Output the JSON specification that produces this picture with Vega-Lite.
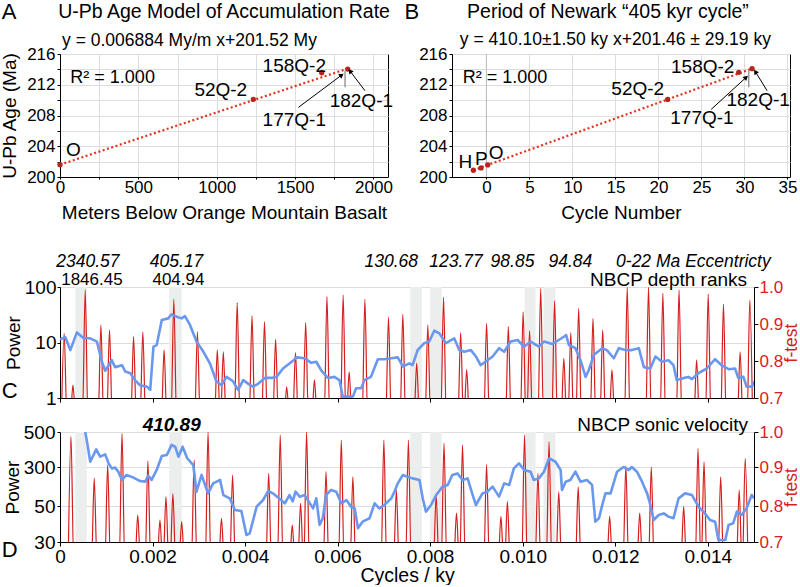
{
"$schema": "https://vega.github.io/schema/vega-lite/v6.json",
"background": "white",
"padding": {"left": 0, "top": 0, "right": 0, "bottom": 0},
"config": {
  "font": "Liberation Sans",
  "view": {"stroke": null},
  "axis": {"labelFont": "Liberation Sans", "titleFont": "Liberation Sans", "labelColor": "#000", "titleColor": "#000", "domainColor": "#000", "tickColor": "#000", "titleFontWeight": "normal", "gridColor": "#dddddd", "labelFontSize": 17, "titleFontSize": 19, "labelOverlap": false, "labelFlush": false, "labelBound": false},
  "text": {"font": "Liberation Sans", "color": "#000"}
},
"datasets": {
  "lineA": [{"m":0,"age":201.6},{"m":1836,"age":214.1}],
  "errA": [{"m":1819,"age":211.66,"age2":213.82}],
  "ptsA": [{"m":0,"age":201.6},{"m":1234,"age":210.09},{"m":1670,"age":213.56},{"m":1836,"age":214.04}],
  "arrA": [{"m":1521,"age":209.05,"m2":1797,"age2":213.26},{"m":1946,"age":211.22,"m2":1851,"age2":213.78}],
  "headA": [{"m":1797,"age":213.26,"angle":53},{"m":1851,"age":213.78,"angle":323}],
  "txtA": [{"m":85,"age":203.5,"label":"O"},{"m":1026,"age":211.37,"label":"52Q-2"},{"m":1495,"age":214.5,"label":"158Q-2"},{"m":1495,"age":207.46,"label":"177Q-1"},{"m":1923,"age":209.94,"label":"182Q-1"}],
  "r2A": [{"m":66,"age":212.94,"label":"R² = 1.000"}],
  "ttlA": [{"m":1047,"age":221.41,"label":"U-Pb Age Model of Accumulation Rate"}],
  "eqA": [{"m":13,"age":217.75,"label":"y = 0.006884 My/m x+201.52 My"}],
  "letA": [{"m":-325,"age":221.5,"label":"A"}],
  "lineB": [{"n":-1.51,"age":200.88},{"n":30.89,"age":214.1}],
  "zeroB": [{"n":0}],
  "errB": [{"n":30.5,"age":211.66,"age2":213.82}],
  "ptsB": [{"n":-1.51,"age":200.88},{"n":-0.62,"age":201.18},{"n":0.15,"age":201.57},{"n":21.08,"age":210.09},{"n":29.34,"age":213.61},{"n":30.89,"age":214.09}],
  "arrB": [{"n":26.13,"age":208.79,"n2":30.2,"age2":212.96},{"n":32.64,"age":211.22,"n2":31.28,"age2":213.69}],
  "headB": [{"n":30.2,"age":212.96,"angle":48},{"n":31.28,"age":213.69,"angle":328}],
  "txtB": [{"n":-2.44,"age":201.96,"label":"H"},{"n":-0.58,"age":202.4,"label":"P"},{"n":1.13,"age":203.09,"label":"O"},{"n":17.6,"age":211.41,"label":"52Q-2"},{"n":25.15,"age":214.35,"label":"158Q-2"},{"n":25.06,"age":207.72,"label":"177Q-1"},{"n":31.6,"age":210.0,"label":"182Q-1"}],
  "r2B": [{"n":-2.76,"age":212.94,"label":"R² = 1.000"}],
  "ttlB": [{"n":14.13,"age":221.41,"label":"Period of Newark “405 kyr cycle”"}],
  "subB": [{"n":15.0,"age":217.83,"label":"y = 410.10±1.50 ky x+201.46 ± 29.19 ky"}],
  "letB": [{"n":-8.66,"age":221.5,"label":"B"}],
  "bands": [{"cyc":0.00033,"cyc2":0.00058},{"cyc":0.00236,"cyc2":0.00263},{"cyc":0.00757,"cyc2":0.00782},{"cyc":0.008,"cyc2":0.00825},{"cyc":0.01004,"cyc2":0.01028},{"cyc":0.01045,"cyc2":0.01071}],
  "italicC": [{"cyc":0.000603,"power":282,"label":"2340.57"},{"cyc":0.00252,"power":282,"label":"405.17"},{"cyc":0.00716,"power":282,"label":"130.68"},{"cyc":0.00856,"power":282,"label":"123.77"},{"cyc":0.00978,"power":282,"label":"98.85"},{"cyc":0.01103,"power":282,"label":"94.84"},{"cyc":0.01369,"power":282,"label":"0-22 Ma Eccentricty"}],
  "normalC": [{"cyc":0.00069,"power":136,"label":"1846.45"},{"cyc":0.00256,"power":136,"label":"404.94"}],
  "nbcpC": [{"cyc":0.01485,"power":135,"label":"NBCP depth ranks"}],
  "letC": [{"cyc":-0.00109,"power":1.365,"label":"C"}],
  "boldD": [{"cyc":0.002414,"power":540,"label":"410.89"}],
  "nbcpD": [{"cyc":0.01487,"power":540,"label":"NBCP sonic velocity"}],
  "letD": [{"cyc":-0.00109,"power":25.3,"label":"D"}],
  "blueC": [{"cyc":0,"power":11.4},{"cyc":0.000115,"power":12.4},{"cyc":0.000223,"power":7.3},{"cyc":0.000366,"power":15.2},{"cyc":0.00051,"power":11.9},{"cyc":0.000654,"power":11.9},{"cyc":0.000797,"power":10.4},{"cyc":0.000905,"power":4.5},{"cyc":0.000977,"power":3.1},{"cyc":0.00112,"power":4.8},{"cyc":0.00119,"power":3.6},{"cyc":0.00134,"power":3.9},{"cyc":0.00141,"power":3.0},{"cyc":0.00152,"power":2.8},{"cyc":0.00162,"power":2.1},{"cyc":0.00173,"power":1.7},{"cyc":0.00188,"power":1.6},{"cyc":0.00195,"power":1.4},{"cyc":0.00202,"power":8.4},{"cyc":0.00209,"power":9.0},{"cyc":0.0022,"power":25.4},{"cyc":0.00234,"power":27.2},{"cyc":0.00241,"power":32.2},{"cyc":0.00252,"power":29.2},{"cyc":0.00263,"power":27.2},{"cyc":0.0027,"power":30},{"cyc":0.00281,"power":20.7},{"cyc":0.00295,"power":10.4},{"cyc":0.0031,"power":6.8},{"cyc":0.00324,"power":4.2},{"cyc":0.00338,"power":2.0},{"cyc":0.00349,"power":1.7},{"cyc":0.0036,"power":2.4},{"cyc":0.00374,"power":2.0},{"cyc":0.00385,"power":1.4},{"cyc":0.00396,"power":2.1},{"cyc":0.00407,"power":1.8},{"cyc":0.00417,"power":1.6},{"cyc":0.00428,"power":1.8},{"cyc":0.00443,"power":2.3},{"cyc":0.00457,"power":2.3},{"cyc":0.00468,"power":2.4},{"cyc":0.00482,"power":3.4},{"cyc":0.00496,"power":4.2},{"cyc":0.00505,"power":4.8},{"cyc":0.00511,"power":5.4},{"cyc":0.00529,"power":5.2},{"cyc":0.00543,"power":4.3},{"cyc":0.00554,"power":4.5},{"cyc":0.00565,"power":3.1},{"cyc":0.00579,"power":2.3},{"cyc":0.00593,"power":2.4},{"cyc":0.00604,"power":2.1},{"cyc":0.00611,"power":1.06},{"cyc":0.00633,"power":1.06},{"cyc":0.0064,"power":1.5},{"cyc":0.00651,"power":1.5},{"cyc":0.00658,"power":2.1},{"cyc":0.00672,"power":2.4},{"cyc":0.00687,"power":5.0},{"cyc":0.00701,"power":5.0},{"cyc":0.00716,"power":5.2},{"cyc":0.0073,"power":5.4},{"cyc":0.00741,"power":3.7},{"cyc":0.00755,"power":4.2},{"cyc":0.00762,"power":3.9},{"cyc":0.00773,"power":7.3},{"cyc":0.00787,"power":9.7},{"cyc":0.00798,"power":10.4},{"cyc":0.00809,"power":16.3},{"cyc":0.0082,"power":14.6},{"cyc":0.00834,"power":9.7},{"cyc":0.00852,"power":11.9},{"cyc":0.00863,"power":7.3},{"cyc":0.00874,"power":6.8},{"cyc":0.00888,"power":7.3},{"cyc":0.00899,"power":5.6},{"cyc":0.00909,"power":3.9},{"cyc":0.00924,"power":4.8},{"cyc":0.00935,"power":5.6},{"cyc":0.00949,"power":7.9},{"cyc":0.0096,"power":6.8},{"cyc":0.00974,"power":10.4},{"cyc":0.00989,"power":11.1},{"cyc":0.01003,"power":8.4},{"cyc":0.01017,"power":10.4},{"cyc":0.01035,"power":8.4},{"cyc":0.01046,"power":10.4},{"cyc":0.01064,"power":9.4},{"cyc":0.01078,"power":11.1},{"cyc":0.01089,"power":12.7},{"cyc":0.01094,"power":13.6},{"cyc":0.011,"power":9.0},{"cyc":0.01114,"power":7.9},{"cyc":0.01125,"power":4.8},{"cyc":0.01136,"power":2.4},{"cyc":0.01143,"power":3.2},{"cyc":0.01154,"power":6.0},{"cyc":0.01172,"power":7.9},{"cyc":0.01182,"power":7.3},{"cyc":0.01197,"power":5.2},{"cyc":0.01208,"power":7.9},{"cyc":0.01222,"power":7.3},{"cyc":0.01236,"power":7.3},{"cyc":0.01251,"power":7.9},{"cyc":0.01262,"power":3.6},{"cyc":0.01276,"power":3.4},{"cyc":0.01287,"power":5.6},{"cyc":0.01301,"power":4.5},{"cyc":0.01315,"power":4.8},{"cyc":0.01326,"power":3.9},{"cyc":0.01333,"power":2.1},{"cyc":0.01348,"power":2.3},{"cyc":0.01358,"power":2.4},{"cyc":0.01366,"power":2.2},{"cyc":0.0138,"power":2.8},{"cyc":0.01398,"power":3.4},{"cyc":0.01416,"power":5.0},{"cyc":0.0143,"power":3.9},{"cyc":0.01445,"power":3.3},{"cyc":0.01459,"power":3.4},{"cyc":0.01466,"power":2.3},{"cyc":0.01477,"power":2.4},{"cyc":0.01484,"power":1.6},{"cyc":0.01496,"power":1.6},{"cyc":0.015,"power":2.0}],
  "blueD": [{"cyc":0.000546,"power":500},{"cyc":0.000596,"power":426},{"cyc":0.000654,"power":330},{"cyc":0.000783,"power":401},{"cyc":0.000869,"power":359},{"cyc":0.000977,"power":372},{"cyc":0.00105,"power":321},{"cyc":0.00112,"power":291},{"cyc":0.00119,"power":296},{"cyc":0.00126,"power":270},{"cyc":0.00134,"power":217},{"cyc":0.00144,"power":249},{"cyc":0.00159,"power":232},{"cyc":0.00173,"power":210},{"cyc":0.00184,"power":206},{"cyc":0.00191,"power":244},{"cyc":0.00198,"power":217},{"cyc":0.00209,"power":281},{"cyc":0.0022,"power":363},{"cyc":0.00231,"power":369},{"cyc":0.00241,"power":426},{"cyc":0.00249,"power":416},{"cyc":0.00256,"power":359},{"cyc":0.00265,"power":416},{"cyc":0.00275,"power":350},{"cyc":0.00288,"power":311},{"cyc":0.00295,"power":142},{"cyc":0.00306,"power":249},{"cyc":0.0032,"power":131},{"cyc":0.00331,"power":195},{"cyc":0.00346,"power":217},{"cyc":0.00353,"power":120},{"cyc":0.00367,"power":99},{"cyc":0.00378,"power":47.8},{"cyc":0.00392,"power":47.2},{"cyc":0.00403,"power":33.9},{"cyc":0.0041,"power":34.8},{"cyc":0.00425,"power":49.6},{"cyc":0.00439,"power":88.4},{"cyc":0.0045,"power":146},{"cyc":0.0046,"power":131},{"cyc":0.00475,"power":95},{"cyc":0.00486,"power":67},{"cyc":0.00496,"power":120},{"cyc":0.00503,"power":80},{"cyc":0.00509,"power":142},{"cyc":0.00518,"power":110},{"cyc":0.00529,"power":120},{"cyc":0.0054,"power":67},{"cyc":0.00547,"power":48.7},{"cyc":0.00554,"power":99},{"cyc":0.00561,"power":39.5},{"cyc":0.00568,"power":43.2},{"cyc":0.00575,"power":120},{"cyc":0.00586,"power":153},{"cyc":0.00597,"power":142},{"cyc":0.00608,"power":67},{"cyc":0.00619,"power":88},{"cyc":0.00629,"power":49.6},{"cyc":0.00637,"power":48.7},{"cyc":0.00644,"power":37.6},{"cyc":0.00654,"power":41.3},{"cyc":0.00669,"power":43.2},{"cyc":0.0068,"power":67},{"cyc":0.0069,"power":48.7},{"cyc":0.00701,"power":56.4},{"cyc":0.00716,"power":99},{"cyc":0.00723,"power":142},{"cyc":0.0073,"power":195},{"cyc":0.00741,"power":249},{"cyc":0.00751,"power":238},{"cyc":0.00762,"power":227},{"cyc":0.00777,"power":217},{"cyc":0.00784,"power":99},{"cyc":0.00791,"power":46.9},{"cyc":0.00802,"power":56.4},{"cyc":0.00813,"power":120},{"cyc":0.00827,"power":174},{"cyc":0.00838,"power":185},{"cyc":0.00848,"power":249},{"cyc":0.00859,"power":259},{"cyc":0.0087,"power":217},{"cyc":0.00881,"power":227},{"cyc":0.00892,"power":120},{"cyc":0.00899,"power":56.4},{"cyc":0.00913,"power":131},{"cyc":0.00924,"power":142},{"cyc":0.00935,"power":174},{"cyc":0.00949,"power":110},{"cyc":0.0096,"power":195},{"cyc":0.00971,"power":185},{"cyc":0.00981,"power":291},{"cyc":0.00992,"power":321},{"cyc":0.01003,"power":281},{"cyc":0.01017,"power":270},{"cyc":0.01024,"power":217},{"cyc":0.01035,"power":227},{"cyc":0.01046,"power":270},{"cyc":0.01057,"power":350},{"cyc":0.01071,"power":330},{"cyc":0.01082,"power":281},{"cyc":0.01085,"power":153},{"cyc":0.01093,"power":206},{"cyc":0.01103,"power":217},{"cyc":0.01114,"power":270},{"cyc":0.01125,"power":206},{"cyc":0.01139,"power":217},{"cyc":0.0115,"power":185},{"cyc":0.01157,"power":41.3},{"cyc":0.01165,"power":43.2},{"cyc":0.01172,"power":56.4},{"cyc":0.01179,"power":131},{"cyc":0.0119,"power":131},{"cyc":0.01204,"power":270},{"cyc":0.01218,"power":300},{"cyc":0.01229,"power":281},{"cyc":0.01236,"power":300},{"cyc":0.01247,"power":270},{"cyc":0.01258,"power":206},{"cyc":0.01269,"power":131},{"cyc":0.01276,"power":56.4},{"cyc":0.01283,"power":42.2},{"cyc":0.01294,"power":45},{"cyc":0.01305,"power":45.9},{"cyc":0.01315,"power":44.1},{"cyc":0.01326,"power":43.2},{"cyc":0.01337,"power":99},{"cyc":0.01351,"power":131},{"cyc":0.01366,"power":120},{"cyc":0.0138,"power":49.6},{"cyc":0.01394,"power":45.9},{"cyc":0.01405,"power":42.2},{"cyc":0.01416,"power":41.3},{"cyc":0.01423,"power":31.1},{"cyc":0.01438,"power":31.1},{"cyc":0.01445,"power":39.5},{"cyc":0.01455,"power":40.4},{"cyc":0.01463,"power":46.9},{"cyc":0.01473,"power":45},{"cyc":0.01484,"power":48.7},{"cyc":0.01495,"power":120},{"cyc":0.015,"power":99}],
  "redC": [{"cyc":0.00003,"f":0.64},{"cyc":0.00009,"f":0.875},{"cyc":0.00015,"f":0.64},{"cyc":0.00022,"f":0.64},{"cyc":0.00028,"f":0.735},{"cyc":0.00034,"f":0.64},{"cyc":0.000485,"f":0.64},{"cyc":0.000545,"f":0.992},{"cyc":0.000605,"f":0.64},{"cyc":0.000824,"f":0.64},{"cyc":0.000884,"f":0.897},{"cyc":0.000944,"f":0.64},{"cyc":0.00101,"f":0.64},{"cyc":0.00107,"f":0.884},{"cyc":0.00113,"f":0.64},{"cyc":0.00153,"f":0.64},{"cyc":0.00159,"f":0.866},{"cyc":0.00165,"f":0.64},{"cyc":0.00173,"f":0.64},{"cyc":0.00179,"f":0.879},{"cyc":0.00185,"f":0.64},{"cyc":0.00219,"f":0.64},{"cyc":0.00225,"f":0.83},{"cyc":0.00231,"f":0.64},{"cyc":0.0024,"f":0.64},{"cyc":0.00246,"f":0.967},{"cyc":0.00252,"f":0.64},{"cyc":0.00291,"f":0.64},{"cyc":0.00297,"f":0.879},{"cyc":0.00303,"f":0.64},{"cyc":0.00334,"f":0.64},{"cyc":0.0034,"f":0.83},{"cyc":0.00346,"f":0.64},{"cyc":0.00347,"f":0.64},{"cyc":0.00353,"f":0.825},{"cyc":0.00359,"f":0.64},{"cyc":0.00377,"f":0.64},{"cyc":0.00383,"f":0.958},{"cyc":0.00389,"f":0.64},{"cyc":0.00409,"f":0.64},{"cyc":0.00415,"f":0.922},{"cyc":0.00421,"f":0.64},{"cyc":0.00436,"f":0.64},{"cyc":0.00442,"f":0.906},{"cyc":0.00448,"f":0.64},{"cyc":0.0046,"f":0.64},{"cyc":0.00466,"f":0.859},{"cyc":0.00472,"f":0.64},{"cyc":0.00484,"f":0.64},{"cyc":0.0049,"f":0.73},{"cyc":0.00496,"f":0.64},{"cyc":0.00503,"f":0.64},{"cyc":0.00509,"f":0.823},{"cyc":0.00515,"f":0.64},{"cyc":0.00525,"f":0.64},{"cyc":0.00531,"f":0.904},{"cyc":0.00537,"f":0.64},{"cyc":0.00544,"f":0.64},{"cyc":0.0055,"f":0.749},{"cyc":0.00556,"f":0.64},{"cyc":0.00571,"f":0.64},{"cyc":0.00577,"f":0.974},{"cyc":0.00583,"f":0.64},{"cyc":0.00606,"f":0.64},{"cyc":0.00612,"f":0.978},{"cyc":0.00618,"f":0.64},{"cyc":0.00619,"f":0.64},{"cyc":0.00625,"f":0.771},{"cyc":0.00631,"f":0.64},{"cyc":0.00653,"f":0.64},{"cyc":0.00659,"f":0.967},{"cyc":0.00665,"f":0.64},{"cyc":0.00704,"f":0.64},{"cyc":0.0071,"f":0.918},{"cyc":0.00716,"f":0.64},{"cyc":0.00735,"f":0.64},{"cyc":0.00741,"f":0.926},{"cyc":0.00747,"f":0.64},{"cyc":0.00765,"f":0.64},{"cyc":0.00771,"f":0.794},{"cyc":0.00777,"f":0.64},{"cyc":0.00789,"f":0.64},{"cyc":0.00795,"f":0.897},{"cyc":0.00801,"f":0.64},{"cyc":0.00823,"f":0.64},{"cyc":0.00829,"f":0.972},{"cyc":0.00835,"f":0.64},{"cyc":0.0086,"f":0.64},{"cyc":0.00866,"f":0.877},{"cyc":0.00872,"f":0.64},{"cyc":0.00873,"f":0.64},{"cyc":0.00879,"f":0.777},{"cyc":0.00885,"f":0.64},{"cyc":0.00916,"f":0.64},{"cyc":0.00922,"f":0.902},{"cyc":0.00928,"f":0.64},{"cyc":0.00963,"f":0.64},{"cyc":0.00969,"f":0.893},{"cyc":0.00975,"f":0.64},{"cyc":0.00995,"f":0.64},{"cyc":0.01001,"f":0.933},{"cyc":0.01007,"f":0.64},{"cyc":0.01009,"f":0.64},{"cyc":0.01015,"f":0.882},{"cyc":0.01021,"f":0.64},{"cyc":0.01033,"f":0.64},{"cyc":0.01039,"f":0.996},{"cyc":0.01045,"f":0.64},{"cyc":0.01063,"f":0.64},{"cyc":0.01069,"f":0.963},{"cyc":0.01075,"f":0.64},{"cyc":0.01083,"f":0.64},{"cyc":0.01089,"f":0.807},{"cyc":0.01095,"f":0.64},{"cyc":0.01098,"f":0.64},{"cyc":0.01104,"f":0.877},{"cyc":0.0111,"f":0.64},{"cyc":0.01115,"f":0.64},{"cyc":0.01121,"f":0.942},{"cyc":0.01127,"f":0.64},{"cyc":0.01146,"f":0.64},{"cyc":0.01152,"f":0.915},{"cyc":0.01158,"f":0.64},{"cyc":0.01167,"f":0.64},{"cyc":0.01173,"f":0.884},{"cyc":0.01179,"f":0.64},{"cyc":0.01187,"f":0.64},{"cyc":0.01193,"f":0.776},{"cyc":0.01199,"f":0.64},{"cyc":0.0122,"f":0.64},{"cyc":0.01226,"f":0.999},{"cyc":0.01232,"f":0.64},{"cyc":0.01266,"f":0.64},{"cyc":0.01272,"f":0.999},{"cyc":0.01278,"f":0.64},{"cyc":0.01297,"f":0.64},{"cyc":0.01303,"f":0.983},{"cyc":0.01309,"f":0.64},{"cyc":0.01332,"f":0.64},{"cyc":0.01338,"f":0.992},{"cyc":0.01344,"f":0.64},{"cyc":0.0137,"f":0.64},{"cyc":0.01376,"f":0.803},{"cyc":0.01382,"f":0.64},{"cyc":0.01395,"f":0.64},{"cyc":0.01401,"f":0.981},{"cyc":0.01407,"f":0.64},{"cyc":0.01428,"f":0.64},{"cyc":0.01434,"f":0.954},{"cyc":0.0144,"f":0.64},{"cyc":0.01464,"f":0.64},{"cyc":0.0147,"f":0.825},{"cyc":0.01476,"f":0.64},{"cyc":0.01485,"f":0.64},{"cyc":0.01491,"f":0.965},{"cyc":0.01497,"f":0.64}],
  "redD": [{"cyc":0.000177,"f":0.64},{"cyc":0.000237,"f":0.987},{"cyc":0.000297,"f":0.64},{"cyc":0.00068,"f":0.64},{"cyc":0.00074,"f":0.871},{"cyc":0.0008,"f":0.64},{"cyc":0.00097,"f":0.64},{"cyc":0.00103,"f":0.906},{"cyc":0.00109,"f":0.64},{"cyc":0.00128,"f":0.64},{"cyc":0.00134,"f":0.996},{"cyc":0.0014,"f":0.64},{"cyc":0.00162,"f":0.64},{"cyc":0.00168,"f":0.775},{"cyc":0.00174,"f":0.64},{"cyc":0.00184,"f":0.64},{"cyc":0.0019,"f":0.917},{"cyc":0.00196,"f":0.64},{"cyc":0.0021,"f":0.64},{"cyc":0.00216,"f":0.761},{"cyc":0.00222,"f":0.64},{"cyc":0.00223,"f":0.64},{"cyc":0.00229,"f":0.824},{"cyc":0.00235,"f":0.64},{"cyc":0.00238,"f":0.64},{"cyc":0.00244,"f":0.832},{"cyc":0.0025,"f":0.64},{"cyc":0.00257,"f":0.64},{"cyc":0.00263,"f":0.757},{"cyc":0.00269,"f":0.64},{"cyc":0.00284,"f":0.64},{"cyc":0.0029,"f":0.92},{"cyc":0.00296,"f":0.64},{"cyc":0.00314,"f":0.64},{"cyc":0.0032,"f":1.0},{"cyc":0.00326,"f":0.64},{"cyc":0.00343,"f":0.64},{"cyc":0.00349,"f":0.766},{"cyc":0.00355,"f":0.64},{"cyc":0.00367,"f":0.64},{"cyc":0.00373,"f":0.879},{"cyc":0.00379,"f":0.64},{"cyc":0.00445,"f":0.64},{"cyc":0.00451,"f":0.884},{"cyc":0.00457,"f":0.64},{"cyc":0.0047,"f":0.64},{"cyc":0.00476,"f":0.991},{"cyc":0.00482,"f":0.64},{"cyc":0.00496,"f":0.64},{"cyc":0.00502,"f":0.747},{"cyc":0.00508,"f":0.64},{"cyc":0.00514,"f":0.64},{"cyc":0.0052,"f":0.807},{"cyc":0.00526,"f":0.64},{"cyc":0.00527,"f":0.64},{"cyc":0.00533,"f":1.0},{"cyc":0.00539,"f":0.64},{"cyc":0.00569,"f":0.64},{"cyc":0.00575,"f":0.888},{"cyc":0.00581,"f":0.64},{"cyc":0.00602,"f":0.64},{"cyc":0.00608,"f":0.977},{"cyc":0.00614,"f":0.64},{"cyc":0.00627,"f":0.64},{"cyc":0.00633,"f":0.875},{"cyc":0.00639,"f":0.64},{"cyc":0.00694,"f":0.64},{"cyc":0.007,"f":0.977},{"cyc":0.00706,"f":0.64},{"cyc":0.00721,"f":0.64},{"cyc":0.00727,"f":0.841},{"cyc":0.00733,"f":0.64},{"cyc":0.00747,"f":0.64},{"cyc":0.00753,"f":0.977},{"cyc":0.00759,"f":0.64},{"cyc":0.00807,"f":0.64},{"cyc":0.00813,"f":0.828},{"cyc":0.00819,"f":0.64},{"cyc":0.00824,"f":0.64},{"cyc":0.0083,"f":0.968},{"cyc":0.00836,"f":0.64},{"cyc":0.00851,"f":0.64},{"cyc":0.00857,"f":0.78},{"cyc":0.00863,"f":0.64},{"cyc":0.00864,"f":0.64},{"cyc":0.0087,"f":0.963},{"cyc":0.00876,"f":0.64},{"cyc":0.00916,"f":0.64},{"cyc":0.00922,"f":0.907},{"cyc":0.00928,"f":0.64},{"cyc":0.00947,"f":0.64},{"cyc":0.00953,"f":0.771},{"cyc":0.00959,"f":0.64},{"cyc":0.00961,"f":0.64},{"cyc":0.00967,"f":0.811},{"cyc":0.00973,"f":0.64},{"cyc":0.00998,"f":0.64},{"cyc":0.01004,"f":0.991},{"cyc":0.0101,"f":0.64},{"cyc":0.01027,"f":0.64},{"cyc":0.01033,"f":0.884},{"cyc":0.01039,"f":0.64},{"cyc":0.01051,"f":0.64},{"cyc":0.01057,"f":0.972},{"cyc":0.01063,"f":0.64},{"cyc":0.01072,"f":0.64},{"cyc":0.01078,"f":0.836},{"cyc":0.01084,"f":0.64},{"cyc":0.01114,"f":0.64},{"cyc":0.0112,"f":0.849},{"cyc":0.01126,"f":0.64},{"cyc":0.01182,"f":0.64},{"cyc":0.01188,"f":0.771},{"cyc":0.01194,"f":0.64},{"cyc":0.01217,"f":0.64},{"cyc":0.01223,"f":0.903},{"cyc":0.01229,"f":0.64},{"cyc":0.01247,"f":0.64},{"cyc":0.01253,"f":0.78},{"cyc":0.01259,"f":0.64},{"cyc":0.01272,"f":0.64},{"cyc":0.01278,"f":0.9},{"cyc":0.01284,"f":0.64},{"cyc":0.01342,"f":0.64},{"cyc":0.01348,"f":0.798},{"cyc":0.01354,"f":0.64},{"cyc":0.01373,"f":0.64},{"cyc":0.01379,"f":0.953},{"cyc":0.01385,"f":0.64},{"cyc":0.01386,"f":0.64},{"cyc":0.01392,"f":0.915},{"cyc":0.01398,"f":0.64},{"cyc":0.01422,"f":0.64},{"cyc":0.01428,"f":0.875},{"cyc":0.01434,"f":0.64},{"cyc":0.01462,"f":0.64},{"cyc":0.01468,"f":0.841},{"cyc":0.01474,"f":0.64},{"cyc":0.01475,"f":0.64},{"cyc":0.01481,"f":0.925},{"cyc":0.01487,"f":0.64}]
},
"spacing": 30,
"vconcat": [
  {
    "hconcat": [
      {
        "width": 328, "height": 123,
        "view": {"stroke": "#000"},
        "encoding": {
          "x": {"field": "m", "type": "quantitative", "scale": {"domain": [0, 2093], "nice": false, "zero": false},
                "axis": {"values": [0,250,500,750,1000,1250,1500,1750,2000], "labelExpr": "datum.value % 500 === 0 ? datum.label : ''", "format": "d", "title": "Meters Below Orange Mountain Basalt", "grid": true, "tickSize": 2, "labelPadding": 0, "titlePadding": 8}},
          "y": {"field": "age", "type": "quantitative", "scale": {"domain": [200, 216], "nice": false, "zero": false},
                "axis": {"values": [200,202,204,206,208,210,212,214,216], "labelExpr": "datum.value % 4 === 0 ? datum.label : ''", "title": "U-Pb Age (Ma)", "grid": true, "tickSize": 3, "labelPadding": 2, "titlePadding": 7}}
        },
        "layer": [
          {"data": {"name": "lineA"}, "mark": {"type": "line", "color": "#e2321f", "strokeDash": [2, 2.5], "strokeWidth": 2.2}},
          {"data": {"name": "errA"}, "mark": {"type": "rule", "color": "#999999", "strokeWidth": 1.5}, "encoding": {"y2": {"field": "age2"}}},
          {"data": {"name": "ptsA"}, "mark": {"type": "point", "filled": true, "color": "#b3261e", "size": 28, "opacity": 1}},
          {"data": {"name": "arrA"}, "mark": {"type": "rule", "color": "#000", "strokeWidth": 1}, "encoding": {"x2": {"field": "m2"}, "y2": {"field": "age2"}}},
          {"data": {"name": "headA"}, "mark": {"type": "point", "shape": "triangle-up", "filled": true, "color": "#000", "size": 30, "opacity": 1}, "encoding": {"angle": {"field": "angle", "type": "quantitative", "scale": null}}},
          {"data": {"name": "txtA"}, "mark": {"type": "text", "fontSize": 19, "baseline": "middle"}, "encoding": {"text": {"field": "label"}}},
          {"data": {"name": "r2A"}, "mark": {"type": "text", "fontSize": 18, "align": "left", "baseline": "middle"}, "encoding": {"text": {"field": "label"}}},
          {"data": {"name": "ttlA"}, "mark": {"type": "text", "fontSize": 19.5, "baseline": "middle"}, "encoding": {"text": {"field": "label"}}},
          {"data": {"name": "eqA"}, "mark": {"type": "text", "fontSize": 17.5, "align": "left", "baseline": "middle"}, "encoding": {"text": {"field": "label"}}},
          {"data": {"name": "letA"}, "mark": {"type": "text", "fontSize": 22, "baseline": "middle"}, "encoding": {"text": {"field": "label"}}}
        ]
      },
      {
        "width": 338, "height": 123,
        "view": {"stroke": "#000"},
        "encoding": {
          "x": {"field": "n", "type": "quantitative", "scale": {"domain": [-4, 35.3], "nice": false, "zero": false},
                "axis": {"values": [0,5,10,15,20,25,30,35], "title": "Cycle Number", "grid": true, "tickSize": 2, "labelPadding": 0, "titlePadding": 8}},
          "y": {"field": "age", "type": "quantitative", "scale": {"domain": [200, 216], "nice": false, "zero": false},
                "axis": {"values": [200,202,204,206,208,210,212,214,216], "labelExpr": "datum.value % 4 === 0 ? datum.label : ''", "title": null, "grid": true, "tickSize": 3, "labelPadding": 2}}
        },
        "layer": [
          {"data": {"name": "zeroB"}, "mark": {"type": "rule", "color": "#bbbbbb", "strokeWidth": 1}, "encoding": {"y": null}},
          {"data": {"name": "lineB"}, "mark": {"type": "line", "color": "#e2321f", "strokeDash": [2, 2.5], "strokeWidth": 2.2}},
          {"data": {"name": "errB"}, "mark": {"type": "rule", "color": "#999999", "strokeWidth": 1.5}, "encoding": {"y2": {"field": "age2"}}},
          {"data": {"name": "ptsB"}, "mark": {"type": "point", "filled": true, "color": "#b3261e", "size": 28, "opacity": 1}},
          {"data": {"name": "arrB"}, "mark": {"type": "rule", "color": "#000", "strokeWidth": 1}, "encoding": {"x2": {"field": "n2"}, "y2": {"field": "age2"}}},
          {"data": {"name": "headB"}, "mark": {"type": "point", "shape": "triangle-up", "filled": true, "color": "#000", "size": 30, "opacity": 1}, "encoding": {"angle": {"field": "angle", "type": "quantitative", "scale": null}}},
          {"data": {"name": "txtB"}, "mark": {"type": "text", "fontSize": 19, "baseline": "middle"}, "encoding": {"text": {"field": "label"}}},
          {"data": {"name": "r2B"}, "mark": {"type": "text", "fontSize": 18, "align": "left", "baseline": "middle"}, "encoding": {"text": {"field": "label"}}},
          {"data": {"name": "ttlB"}, "mark": {"type": "text", "fontSize": 19.5, "baseline": "middle"}, "encoding": {"text": {"field": "label"}}},
          {"data": {"name": "subB"}, "mark": {"type": "text", "fontSize": 17.5, "baseline": "middle"}, "encoding": {"text": {"field": "label"}}},
          {"data": {"name": "letB"}, "mark": {"type": "text", "fontSize": 22, "baseline": "middle"}, "encoding": {"text": {"field": "label"}}}
        ]
      }
    ],
    "spacing": 64,
    "bounds": "flush"
  },
  {
    "vconcat": [
      {
        "width": 694, "height": 111,
        "encoding": {
          "x": {"field": "cyc", "type": "quantitative", "scale": {"domain": [0, 0.015], "nice": false, "zero": false},
                "axis": {"values": [0,0.002,0.004,0.006,0.008,0.01,0.012,0.014], "labels": false, "title": null, "grid": false, "tickSize": 4}}
        },
        "layer": [
          {"data": {"name": "bands"}, "mark": {"type": "rect", "color": "#eceeee"}, "encoding": {"x2": {"field": "cyc2"}}},
          {"data": {"name": "redC"}, "mark": {"type": "line", "color": "#d61e1e", "strokeWidth": 1.2, "clip": true, "interpolate": "monotone"},
           "encoding": {"y": {"field": "f", "type": "quantitative", "scale": {"domain": [0.7, 1.0], "nice": false, "zero": false},
             "axis": {"orient": "right", "values": [0.7,0.8,0.9,1.0], "format": ".1f", "title": "f-test", "titleAngle": 270, "titleBaseline": "top", "labelColor": "#d61e1e", "titleColor": "#d61e1e", "labelFontSize": 17, "titleFontSize": 17.5, "grid": false, "tickSize": 4, "labelPadding": 1, "titlePadding": 0}}}},
          {
            "encoding": {"y": {"field": "power", "type": "quantitative", "scale": {"type": "log", "domain": [1, 100], "nice": false},
              "axis": {"orient": "left", "values": [1,10,100], "format": "d", "title": "Power", "labelFontSize": 19, "titleFontSize": 19, "grid": true, "tickSize": 3, "labelPadding": 1, "titlePadding": 1}}},
            "layer": [
              {"data": {"name": "blueC"}, "mark": {"type": "line", "color": "#6a98ee", "strokeWidth": 2.6, "clip": true, "strokeJoin": "round"}},
              {"data": {"name": "italicC"}, "mark": {"type": "text", "fontSize": 17.5, "fontStyle": "italic", "baseline": "middle"}, "encoding": {"text": {"field": "label"}}},
              {"data": {"name": "normalC"}, "mark": {"type": "text", "fontSize": 17, "baseline": "middle"}, "encoding": {"text": {"field": "label"}}},
              {"data": {"name": "nbcpC"}, "mark": {"type": "text", "fontSize": 19, "align": "right", "baseline": "middle"}, "encoding": {"text": {"field": "label"}}},
              {"data": {"name": "letC"}, "mark": {"type": "text", "fontSize": 22, "baseline": "middle"}, "encoding": {"text": {"field": "label"}}}
            ]
          }
        ],
        "resolve": {"scale": {"y": "independent"}}
      },
      {
        "width": 694, "height": 110,
        "encoding": {
          "x": {"field": "cyc", "type": "quantitative", "scale": {"domain": [0, 0.015], "nice": false, "zero": false},
                "axis": {"values": [0,0.002,0.004,0.006,0.008,0.01,0.012,0.014], "labelExpr": "datum.value === 0 ? '0' : format(datum.value, '.3f')", "title": "Cycles / ky", "labelFontSize": 19, "titleFontSize": 19.5, "grid": false, "tickSize": 4, "labelPadding": 1, "titlePadding": 0}}
        },
        "layer": [
          {"data": {"name": "bands"}, "mark": {"type": "rect", "color": "#eceeee"}, "encoding": {"x2": {"field": "cyc2"}}},
          {"data": {"name": "redD"}, "mark": {"type": "line", "color": "#d61e1e", "strokeWidth": 1.2, "clip": true, "interpolate": "monotone"},
           "encoding": {"y": {"field": "f", "type": "quantitative", "scale": {"domain": [0.7, 0.8, 0.9, 1.0], "range": [110, 74, 35, 0], "nice": false, "zero": false},
             "axis": {"orient": "right", "values": [0.7,0.8,0.9,1.0], "format": ".1f", "title": "f-test", "titleAngle": 270, "titleBaseline": "top", "labelColor": "#d61e1e", "titleColor": "#d61e1e", "labelFontSize": 17, "titleFontSize": 17.5, "grid": false, "tickSize": 4, "labelPadding": 1, "titlePadding": 0}}}},
          {
            "encoding": {"y": {"field": "power", "type": "quantitative", "scale": {"domain": [30, 50, 300, 500], "range": [110, 74, 35, 0], "nice": false, "zero": false},
              "axis": {"orient": "left", "values": [30,50,300,500], "format": "d", "title": "Power", "labelFontSize": 19, "titleFontSize": 19, "grid": true, "tickSize": 3, "labelPadding": 2, "titlePadding": 1}}},
            "layer": [
              {"data": {"name": "blueD"}, "mark": {"type": "line", "color": "#6a98ee", "strokeWidth": 2.6, "clip": true, "strokeJoin": "round"}},
              {"data": {"name": "boldD"}, "mark": {"type": "text", "fontSize": 19, "fontStyle": "italic", "fontWeight": "bold", "baseline": "middle"}, "encoding": {"text": {"field": "label"}}},
              {"data": {"name": "nbcpD"}, "mark": {"type": "text", "fontSize": 19, "align": "right", "baseline": "middle"}, "encoding": {"text": {"field": "label"}}},
              {"data": {"name": "letD"}, "mark": {"type": "text", "fontSize": 22, "baseline": "middle"}, "encoding": {"text": {"field": "label"}}}
            ]
          }
        ],
        "resolve": {"scale": {"y": "independent"}}
      }
    ],
    "spacing": 34,
    "bounds": "flush"
  }
]
}
